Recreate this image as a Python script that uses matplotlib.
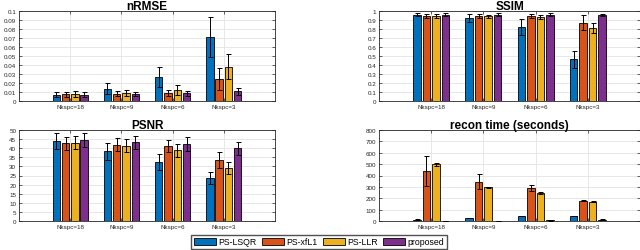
import numpy as np
import matplotlib
matplotlib.use('Agg')
import matplotlib.pyplot as plt

plt.rcParams['font.family'] = ['Liberation Sans', 'DejaVu Sans']

groups = ['Nkspc=18', 'Nkspc=9', 'Nkspc=6', 'Nkspc=3']
methods = ['PS-LSQR', 'PS-xfL1', 'PS-LLR', 'proposed']
colors = ['#0072BD', '#D95319', '#EDB120', '#7E2F8E']

# rows = groups, columns = methods
nrmse = [[0.0070, 0.0074, 0.0077, 0.0070],
         [0.0136, 0.0083, 0.0094, 0.0080],
         [0.0265, 0.0092, 0.0121, 0.0085],
         [0.0713, 0.0246, 0.0382, 0.0107]]
nrmse_err = [[0.0026, 0.0030, 0.0030, 0.0026],
             [0.0060, 0.0028, 0.0033, 0.0022],
             [0.0110, 0.0035, 0.0055, 0.0030],
             [0.0223, 0.0120, 0.0140, 0.0036]]

ssim = [[0.960, 0.945, 0.945, 0.960],
        [0.923, 0.945, 0.940, 0.960],
        [0.823, 0.945, 0.930, 0.960],
        [0.463, 0.871, 0.812, 0.956]]
ssim_err = [[0.020, 0.020, 0.020, 0.020],
            [0.042, 0.020, 0.020, 0.020],
            [0.085, 0.020, 0.022, 0.020],
            [0.095, 0.080, 0.058, 0.012]]

psnr = [[44.0, 42.7, 43.1, 44.4],
        [38.4, 42.0, 41.3, 43.3],
        [32.5, 41.1, 38.9, 42.4],
        [23.6, 33.5, 28.9, 40.0]]
psnr_err = [[4.5, 3.7, 3.6, 4.0],
            [4.7, 3.5, 3.6, 3.6],
            [4.4, 3.4, 3.6, 4.0],
            [3.1, 4.5, 3.3, 3.5]]

rtime = [[12, 440, 497, 3],
         [26, 345, 298, 3],
         [44, 290, 246, 5],
         [44, 178, 170, 12]]
rtime_err = [[3, 134, 10, 1],
             [4, 66, 5, 1],
             [4, 24, 5, 1],
             [3, 3, 3, 2]]

panels = [
    ('nRMSE', nrmse, nrmse_err, np.arange(0, 0.1001, 0.01),
     ['0', '0.01', '0.02', '0.03', '0.04', '0.05', '0.06', '0.07', '0.08', '0.09', '0.1'],
     [19, 12, 256, 90]),
    ('SSIM', ssim, ssim_err, np.arange(0, 1.001, 0.1),
     ['0', '0.1', '0.2', '0.3', '0.4', '0.5', '0.6', '0.7', '0.8', '0.9', '1'],
     [379, 12, 261, 90]),
    ('PSNR', psnr, psnr_err, np.arange(0, 51, 5),
     [str(v) for v in range(0, 51, 5)],
     [19, 131, 256, 91]),
    ('recon time (seconds)', rtime, rtime_err, np.arange(0, 801, 100),
     [str(v) for v in range(0, 801, 100)],
     [379, 131, 261, 91]),
]

W, H = 640, 251
fig = plt.figure(figsize=(W / 100, H / 100), dpi=100)

ngroups = len(groups)
nm = len(methods)
groupwidth = min(0.8, nm / (nm + 1.5))
step = groupwidth / nm
barw = 0.8 * step
x = np.arange(1, ngroups + 1)

edge = '#262626'
handles = []
for title, vals, errs, yt, ytl, (px, py, pw, ph) in panels:
    ax = fig.add_axes([px / W, 1 - (py + ph) / H, pw / W, ph / H])
    vals = np.array(vals)
    errs = np.array(errs)
    for j in range(nm):
        xs = x - groupwidth / 2 + step * (j + 0.5)
        b = ax.bar(xs, vals[:, j], barw, color=colors[j], edgecolor='black',
                   linewidth=0.6, zorder=2, label=methods[j])
        ax.errorbar(xs, vals[:, j], yerr=errs[:, j], fmt='none', ecolor='black',
                    elinewidth=0.7, capsize=1.8, capthick=0.7, zorder=3)
        if title == 'nRMSE':
            handles.append(b)
    ax.set_xlim(0, 5)
    ax.set_ylim(yt[0], yt[-1])
    ax.set_xticks(x)
    ax.set_xticklabels(groups)
    ax.set_yticks(yt)
    ax.set_yticklabels(ytl)
    ax.grid(True, color='#e3e3e3', linewidth=0.6, zorder=0)
    ax.set_axisbelow(True)
    ax.tick_params(direction='in', length=2.2, width=0.5, colors=edge,
                   labelsize=4.5, pad=2, top=True, right=True)
    for s in ax.spines.values():
        s.set_color(edge)
        s.set_linewidth(0.6)
    ax.set_title(title, fontsize=8.5, fontweight='bold', pad=1.5)

fig.legend(handles, methods, loc='center', bbox_to_anchor=(319 / W, 1 - 243 / H),
           ncol=4, fontsize=6.3, frameon=True, fancybox=False, edgecolor=edge,
           handlelength=2.5, handleheight=1.0, handletextpad=0.3,
           columnspacing=0.6, borderpad=0.3, borderaxespad=0)
fig.savefig('out.png', dpi=100)
